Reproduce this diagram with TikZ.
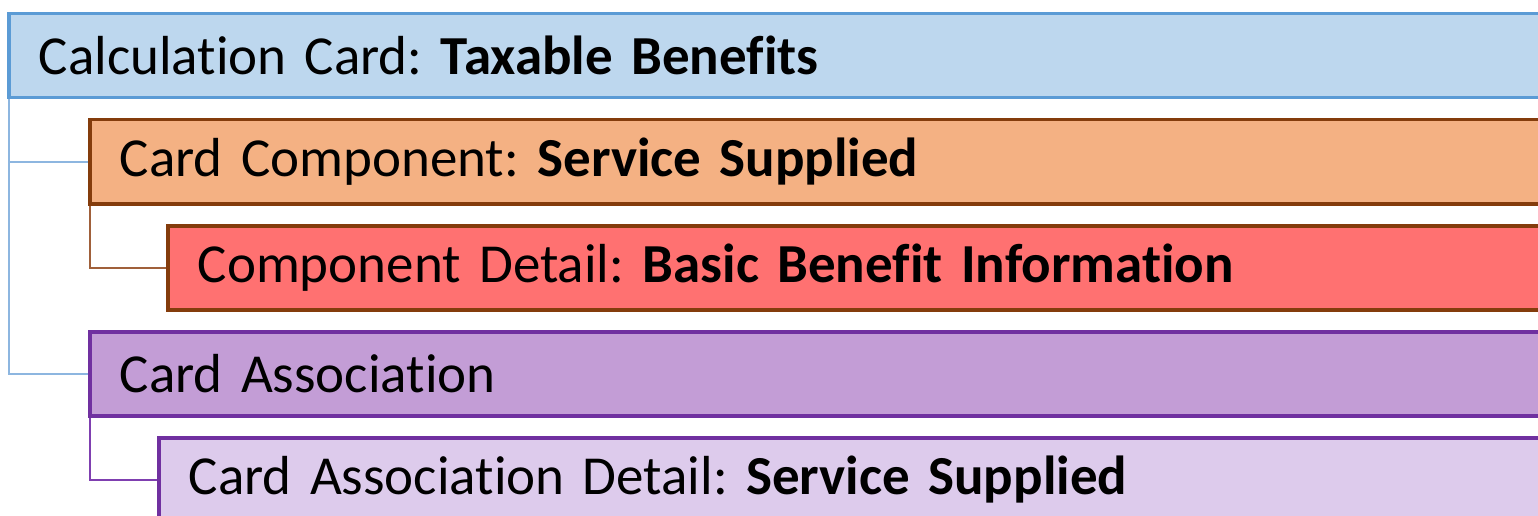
\documentclass[tikz,border=0pt]{standalone}
\usepackage{fontspec}
\setmainfont{Carlito}[Ligatures=NoCommon]
\frenchspacing
\definecolor{bfill}{HTML}{BDD7EE}
\definecolor{bdraw}{HTML}{5B9BD5}
\definecolor{ofill}{HTML}{F4B183}
\definecolor{odraw}{HTML}{843C0C}
\definecolor{rfill}{HTML}{FF7171}
\definecolor{pfill}{HTML}{C39DD6}
\definecolor{pdraw}{HTML}{7030A0}
\definecolor{lpfill}{HTML}{DDCBEC}
\definecolor{bline}{HTML}{8DB6E0}
\definecolor{oline}{HTML}{A0603A}
\definecolor{pline}{HTML}{7F3FB0}
\begin{document}
\begin{tikzpicture}[x=1pt,y=1pt,
  card/.style={rectangle, anchor=north west, line width=3.5pt, minimum height=84pt,
    minimum width=1700pt, text width=1640pt, align=left, inner xsep=30pt, inner ysep=0pt,
    font=\fontsize{55}{59}\selectfont},
  link/.style={line width=2pt}]
\useasboundingbox (0,0) rectangle (1538,-516);
\clip (0,0) rectangle (1538,-516);
\node[card, draw=bdraw, fill=bfill] (b1) at (7,-12) {Calculation Card: \textbf{Taxable Benefits}};
\node[card, draw=odraw, fill=ofill] (b2) at (88,-118) {Card Component: \textbf{Service Supplied}};
\node[card, draw=odraw, fill=rfill] (b3) at (166,-224) {Component Detail: \textbf{Basic Benefit Information}};
\node[card, draw=pdraw, fill=pfill] (b4) at (88,-330) {Card Association};
\node[card, draw=pdraw, fill=lpfill] (b5) at (157,-436) {Card Association Detail: \textbf{Service Supplied}};
\coordinate (s1) at ([xshift=2pt]b1.south west);
\coordinate (s2) at ([xshift=2pt]b2.south west);
\coordinate (s4) at ([xshift=2pt]b4.south west);
\draw[link, bline] (s1) |- (b2.west);
\draw[link, bline] (s1) |- (b4.west);
\draw[link, oline] (s2) |- (b3.west);
\draw[link, pline] (s4) |- (b5.west);
\end{tikzpicture}
\end{document}
